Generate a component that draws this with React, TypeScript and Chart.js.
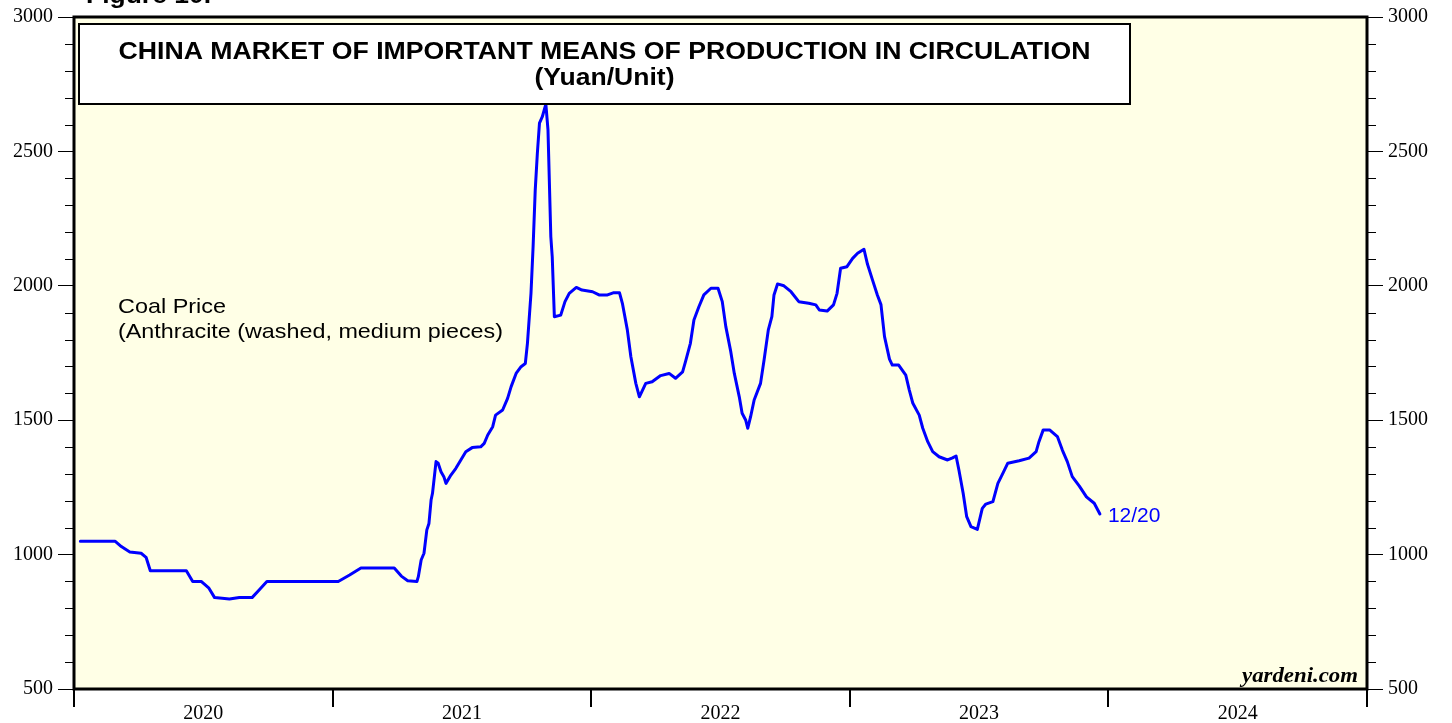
import React, { useEffect, useRef } from "react";
import { Chart, registerables } from "chart.js";

Chart.register(...registerables);

// ---- data ----
const dates: string[] = [
  "2020-01-10","2020-02-28","2020-03-08","2020-03-20","2020-04-05","2020-04-12","2020-04-18","2020-06-08","2020-06-17","2020-06-29","2020-07-10","2020-07-18","2020-08-08","2020-08-22","2020-09-09","2020-09-19","2020-09-30",
  "2021-01-09","2021-01-25","2021-02-10","2021-03-29","2021-04-08","2021-04-17","2021-04-30","2021-05-02","2021-05-06","2021-05-10","2021-05-14","2021-05-17","2021-05-20","2021-05-22","2021-05-27","2021-05-30","2021-06-03","2021-06-07","2021-06-10","2021-06-17","2021-06-24","2021-07-01","2021-07-08","2021-07-17","2021-07-29","2021-08-03","2021-08-08","2021-08-15","2021-08-19","2021-08-29","2021-09-05","2021-09-10","2021-09-17","2021-09-24","2021-09-30","2021-10-03","2021-10-08","2021-10-11","2021-10-14","2021-10-17","2021-10-20","2021-10-24","2021-10-29","2021-11-01","2021-11-05","2021-11-07","2021-11-10","2021-11-19","2021-11-25","2021-12-01","2021-12-11","2021-12-19",
  "2022-01-03","2022-01-12","2022-01-24","2022-02-01","2022-02-10","2022-02-14","2022-02-21","2022-02-26","2022-03-05","2022-03-10","2022-03-19","2022-03-28","2022-04-09","2022-04-21","2022-04-30","2022-05-10","2022-05-14","2022-05-21","2022-05-26","2022-06-02","2022-06-09","2022-06-19","2022-06-29","2022-07-05","2022-07-10","2022-07-17","2022-07-22","2022-07-29","2022-08-02","2022-08-07","2022-08-10","2022-08-14","2022-08-19","2022-08-28","2022-09-02","2022-09-08","2022-09-13","2022-09-16","2022-09-21","2022-09-30","2022-10-10","2022-10-21","2022-11-04","2022-11-14","2022-11-19","2022-11-30","2022-12-09","2022-12-14","2022-12-19","2022-12-28",
  "2023-01-05","2023-01-12","2023-01-21","2023-01-26","2023-02-02","2023-02-09","2023-02-14","2023-02-19","2023-02-26","2023-03-02","2023-03-11","2023-03-21","2023-03-26","2023-03-31","2023-04-09","2023-04-14","2023-04-21","2023-04-28","2023-05-07","2023-05-19","2023-05-26","2023-05-31","2023-06-04","2023-06-10","2023-06-15","2023-06-21","2023-06-30","2023-07-07","2023-07-12","2023-07-22","2023-07-29","2023-08-05","2023-08-12","2023-08-28","2023-09-11","2023-09-21","2023-09-25","2023-10-01","2023-10-10","2023-10-21","2023-10-28","2023-11-04","2023-11-11","2023-11-21","2023-12-01","2023-12-12","2023-12-20",
];

const coalPrice: number[] = [
  1050,1050,1030,1010,1005,990,940,940,900,900,875,840,835,840,840,868,900,
  900,924,950,950,920,903,900,918,980,1005,1092,1116,1203,1228,1346,1340,1308,1290,1265,1296,1321,1352,1383,1398,1401,1414,1445,1476,1519,1538,1581,1625,1674,1699,1711,1786,1972,2146,2356,2493,2605,2629,2676,2580,2183,2108,1885,1891,1941,1972,1994,1984,
  1978,1966,1966,1974,1974,1935,1836,1736,1637,1587,1637,1643,1666,1674,1656,1680,1717,1786,1873,1922,1966,1991,1991,1941,1848,1755,1674,1587,1526,1501,1470,1513,1575,1637,1724,1836,1885,1966,2007,2000,1978,1941,1935,1929,1910,1906,1929,1972,2065,2071,
  2102,2121,2136,2080,2022,1965,1930,1811,1727,1705,1705,1668,1612,1563,1519,1470,1420,1383,1364,1352,1360,1367,1315,1228,1141,1104,1094,1172,1188,1197,1265,1302,1340,1349,1359,1383,1420,1464,1464,1439,1389,1346,1290,1255,1215,1191,1151,
];

const yearLabels: string[] = ["2020", "2021", "2022", "2023", "2024"];
const yearBoundaries: number[] = [2020, 2021, 2022, 2023, 2024, 2025];
const yMajorTicks: number[] = [500, 1000, 1500, 2000, 2500, 3000];
const yMinorStep = 100;

const titleLine1 = "CHINA MARKET OF IMPORTANT MEANS OF PRODUCTION IN CIRCULATION";
const titleLine2 = "(Yuan/Unit)";
const noteLine1 = "Coal Price";
const noteLine2 = "(Anthracite (washed, medium pieces)";
const lastLabel = "12/20";
const sourceLabel = "yardeni.com";
const figureLabel = "Figure 10.";

function toDecimalYear(d: string): number {
  const [y, m, dd] = d.split("-").map(Number);
  const start = Date.UTC(y, 0, 1);
  const end = Date.UTC(y + 1, 0, 1);
  return y + (Date.UTC(y, m - 1, dd) - start) / (end - start);
}

function stretchText(
  ctx: CanvasRenderingContext2D,
  text: string,
  x: number,
  y: number,
  font: string,
  color: string,
  targetW: number,
  align: "left" | "center" | "right"
) {
  ctx.save();
  ctx.font = font;
  ctx.fillStyle = color;
  ctx.textBaseline = "alphabetic";
  ctx.textAlign = "left";
  const w = ctx.measureText(text).width;
  const sx = targetW / w;
  const x0 = align === "left" ? x : align === "center" ? x - targetW / 2 : x - targetW;
  ctx.translate(x0, y);
  ctx.scale(sx, 1);
  ctx.fillText(text, 0, 0);
  ctx.restore();
}

const decorPlugin = {
  id: "decor",
  beforeDraw(chart: any) {
    const { ctx, chartArea: a } = chart;
    ctx.save();
    ctx.fillStyle = "#FFFFE6";
    ctx.fillRect(a.left, a.top, a.right - a.left, a.bottom - a.top);
    ctx.restore();
  },
  afterDatasetsDraw(chart: any) {
    const { ctx, chartArea: a, scales } = chart;
    const xs = scales.x;
    const ys = scales.y;

    // title box
    ctx.save();
    const bx = a.left + 5, by = a.top + 7, bw = 1051, bh = 80;
    ctx.fillStyle = "#FFFFFF";
    ctx.fillRect(bx, by, bw, bh);
    ctx.strokeStyle = "#000";
    ctx.lineWidth = 2;
    ctx.strokeRect(bx, by, bw, bh);
    ctx.restore();
    const cx = bx + bw / 2;
    const titleFont = "bold 23px 'Liberation Sans', Arial, sans-serif";
    stretchText(ctx, titleLine1, cx, a.top + 42, titleFont, "#000", 972, "center");
    stretchText(ctx, titleLine2, cx, a.top + 68, titleFont, "#000", 140, "center");

    // annotation
    const noteFont = "21px 'Liberation Sans', Arial, sans-serif";
    stretchText(ctx, noteLine1, a.left + 44, 313, noteFont, "#000", 108, "left");
    stretchText(ctx, noteLine2, a.left + 44, 338, noteFont, "#000", 385, "left");

    // source
    stretchText(ctx, sourceLabel, a.right - 9, a.bottom - 7, "bold italic 21px 'Liberation Serif', 'Times New Roman', serif", "#000", 116, "right");

    // figure label (cut off at top)
    stretchText(ctx, figureLabel, 86, 3, "bold 23px 'Liberation Sans', Arial, sans-serif", "#000", 125, "left");

    // last value label
    const meta = chart.getDatasetMeta(0);
    const lastPt = meta.data[meta.data.length - 1];
    ctx.save();
    ctx.font = "21px 'Liberation Sans', Arial, sans-serif";
    ctx.fillStyle = "#0000FF";
    ctx.textBaseline = "alphabetic";
    ctx.textAlign = "left";
    ctx.fillText(lastLabel, lastPt.x + 8, lastPt.y + 8);
    ctx.restore();

    // plot border
    ctx.save();
    ctx.strokeStyle = "#000";
    ctx.lineWidth = 3;
    ctx.strokeRect(a.left, a.top, a.right - a.left, a.bottom - a.top);

    // minor y ticks
    ctx.lineWidth = 1;
    ctx.beginPath();
    for (let v = ys.min + yMinorStep; v < ys.max; v += yMinorStep) {
      if (yMajorTicks.includes(v)) continue;
      const py = Math.round(ys.getPixelForValue(v)) + 0.5;
      ctx.moveTo(a.left - 9, py);
      ctx.lineTo(a.left, py);
      ctx.moveTo(a.right, py);
      ctx.lineTo(a.right + 9, py);
    }
    ctx.stroke();

    // year boundary ticks
    ctx.lineWidth = 2;
    ctx.beginPath();
    for (const yb of yearBoundaries) {
      const px = Math.round(xs.getPixelForValue(yb));
      ctx.moveTo(px, a.bottom);
      ctx.lineTo(px, a.bottom + 18);
    }
    ctx.stroke();
    ctx.restore();
  },
};

const tickFont = { family: "'Liberation Serif', 'Times New Roman', serif", size: 20 };

export default function App() {
  const ref = useRef<HTMLCanvasElement | null>(null);

  useEffect(() => {
    if (!ref.current) return;
    const points = dates.map((d, i) => ({ x: toDecimalYear(d), y: coalPrice[i] }));
    const yAxis = (position: string, width: number) => ({
      type: "linear",
      position,
      min: 500,
      max: 3000,
      afterBuildTicks: (s: any) => {
        s.ticks = yMajorTicks.map((v) => ({ value: v }));
      },
      ticks: {
        font: tickFont,
        color: "#000",
        padding: 5,
        autoSkip: false,
        callback: (v: any) => String(v),
      },
      grid: { drawOnChartArea: false, drawTicks: true, tickLength: 16, color: "#000", lineWidth: 1 },
      border: { display: false },
      afterFit: (s: any) => {
        s.width = width;
      },
    });
    const chart = new Chart(ref.current, {
      type: "line",
      data: {
        datasets: [
          {
            data: points,
            borderColor: "#0000FF",
            borderWidth: 3,
            pointRadius: 0,
            tension: 0,
            borderJoinStyle: "round",
            borderCapStyle: "round",
            yAxisID: "y",
          },
        ],
      },
      options: {
        responsive: false,
        animation: false,
        events: [],
        layout: { padding: { top: 17, left: 0, right: 0, bottom: 0 } },
        plugins: { legend: { display: false }, tooltip: { enabled: false }, title: { display: false } },
        scales: {
          x: {
            type: "linear",
            position: "bottom",
            min: 2020,
            max: 2025,
            afterBuildTicks: (s: any) => {
              s.ticks = yearLabels.map((y) => ({ value: Number(y) + 0.5 }));
            },
            ticks: {
              callback: (_v: any, i: number) => yearLabels[i],
              font: tickFont,
              color: "#000",
              padding: 5,
              maxRotation: 0,
              autoSkip: false,
            },
            grid: { display: false },
            border: { display: false },
            afterFit: (s: any) => {
              s.height = 34;
            },
          },
          y: yAxis("left", 74),
          y2: yAxis("right", 85),
        },
      },
      plugins: [decorPlugin],
    } as any);
    return () => chart.destroy();
  }, []);

  return (
    <div style={{ position: "fixed", left: 0, top: 0, width: 1452, height: 723, background: "#fff" }}>
      <canvas ref={ref} width={1452} height={723} style={{ display: "block" }} />
    </div>
  );
}
